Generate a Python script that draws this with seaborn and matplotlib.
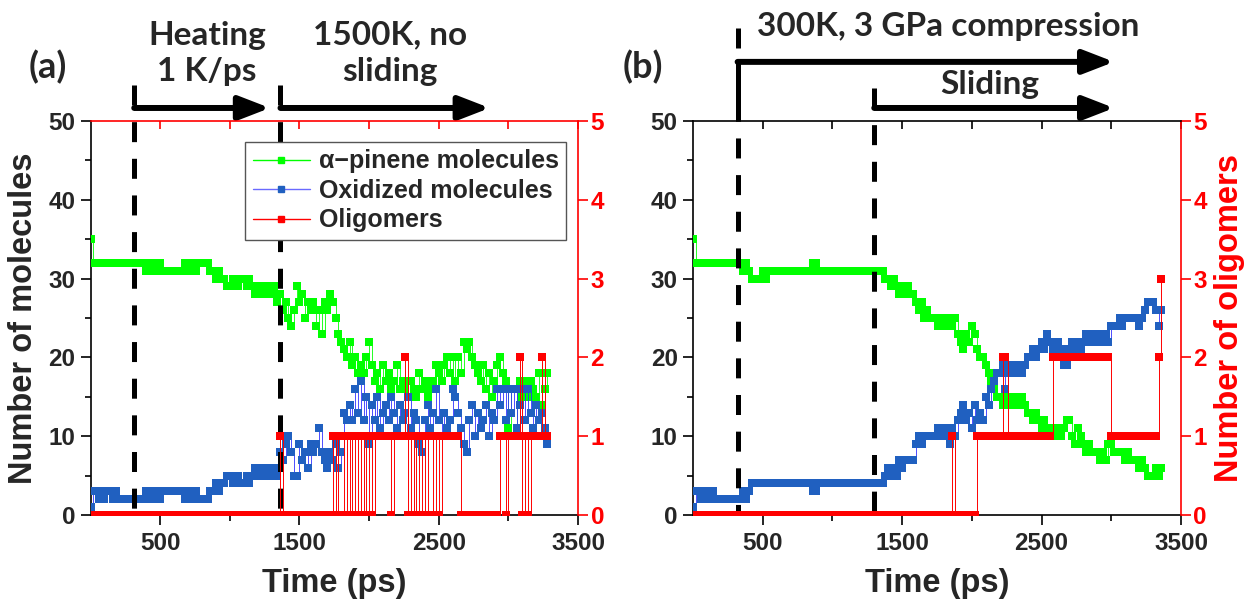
import numpy as np
import pandas as pd
import matplotlib
matplotlib.use("Agg")
import matplotlib.pyplot as plt
from matplotlib.lines import Line2D
import seaborn as sns

# ---------------- data (sampled every 20 ps) ----------------
STEP_PS = 20

green_a = [35, 32, 32, 32, 32,  32, 32, 32, 32, 32,  32, 32, 32, 32, 32,  32, 32, 32, 32, 32,
           31, 32, 31, 31, 32,  32, 31, 31, 31, 31,  31, 31, 31, 31, 32,  31, 32, 32, 31, 32,
           32, 32, 32, 31, 31,  30, 31, 30, 30, 29,  29, 30, 30, 29, 30,  30, 29, 30, 29, 28,
           29, 28, 29, 28, 29,  28, 29, 27, 28, 26,  27, 25, 24, 26, 29,  27, 28, 25, 27, 26,
           27, 24, 26, 23, 27,  26, 28, 27, 25, 23,  22, 21, 20, 22, 19,  20, 18, 19, 18, 20,
           22, 19, 17, 18, 16,  19, 17, 18, 16, 17,  19, 16, 17, 16, 15,  17, 16, 15, 18, 16,
           17, 15, 16, 17, 19,  18, 17, 19, 20, 18,  20, 17, 20, 18, 22,  21, 22, 20, 19, 18,
           17, 19, 16, 18, 15,  17, 19, 20, 18, 17,  11, 16, 16, 11, 17,  15, 17, 15, 17, 16,
           15, 18, 14, 16, 18]

blue_a = [1, 3, 3, 2, 3,  2, 3, 3, 2, 3,  2, 2, 2, 2, 2,  2, 2, 2, 2, 2,
          3, 2, 3, 3, 2,  2, 3, 3, 3, 3,  3, 3, 3, 3, 2,  3, 2, 2, 3, 2,
          2, 2, 2, 3, 3,  4, 3, 4, 4, 5,  5, 4, 4, 5, 4,  4, 5, 4, 5, 6,
          5, 6, 5, 6, 5,  6, 6, 5, 8, 7,  9, 10, 8, 5, 5,  9, 7, 8, 6, 9,
          8, 9, 11, 8, 7,  6, 8, 7, 9, 6,  8, 13, 12, 14, 12,  16, 13, 17, 12, 15,
          9, 14, 12, 15, 11,  13, 14, 12, 15, 13,  11, 14, 12, 13, 15,  11, 13, 12, 9, 8,
          12, 14, 11, 13, 16,  12, 10, 13, 11, 12,  16, 15, 13, 11, 9,  8, 12, 14, 10, 13,
          11, 12, 14, 10, 13,  12, 16, 14, 16, 12,  16, 13, 16, 11, 14,  16, 12, 16, 13, 11,
          14, 12, 13, 11, 9]

olig_a = [0, 0, 0, 0, 0,  0, 0, 0, 0, 0,  0, 0, 0, 0, 0,  0, 0, 0, 0, 0,
          0, 0, 0, 0, 0,  0, 0, 0, 0, 0,  0, 0, 0, 0, 0,  0, 0, 0, 0, 0,
          0, 0, 0, 0, 0,  0, 0, 0, 0, 0,  0, 0, 0, 0, 0,  0, 0, 0, 0, 0,
          0, 0, 0, 0, 0,  0, 0, 0, 1, 0,  0, 0, 0, 0, 0,  0, 0, 0, 0, 0,
          0, 0, 0, 0, 0,  0, 0, 1, 0, 1,  1, 0, 1, 0, 1,  0, 1, 0, 1, 0,
          1, 0, 1, 1, 1,  1, 1, 1, 0, 1,  1, 1, 1, 2, 0,  1, 0, 1, 0, 1,
          0, 1, 1, 0, 1,  0, 1, 1, 1, 1,  1, 1, 1, 0, 0,  0, 0, 0, 0, 0,
          0, 0, 0, 0, 0,  0, 0, 1, 1, 0,  1, 1, 1, 1, 2,  0, 1, 0, 1, 1,
          1, 1, 2, 1, 1]

green_b = [35, 32, 32, 32, 32,  32, 32, 32, 32, 32,  32, 32, 32, 32, 32,  32, 32, 32, 31, 32,
           31, 30, 30, 30, 30,  31, 30, 31, 31, 31,  31, 31, 31, 31, 31,  31, 31, 31, 31, 31,
           31, 31, 31, 32, 32,  31, 31, 31, 31, 31,  31, 31, 31, 31, 31,  31, 31, 31, 31, 31,
           31, 31, 31, 31, 31,  31, 31, 31, 31, 30,  30, 29, 30, 29, 28,  29, 28, 29, 28, 28,
           27, 26, 27, 25, 26,  25, 25, 25, 24, 25,  24, 25, 24, 24, 25,  23, 22, 21, 23, 22,
           24, 23, 21, 20, 20,  19, 18, 17, 16, 15,  15, 14, 15, 14, 15,  14, 15, 14, 15, 14,
           13, 13, 12, 13, 12,  11, 12, 11, 11, 11,  10, 11, 10, 11, 12,  12, 10, 9, 11, 10,
           9, 8, 9, 8, 8,  8, 7, 8, 7, 9,  9, 8, 8, 8, 8,  7, 8, 7, 7, 7,
           6, 7, 6, 5, 5,  5, 6, 5, 6]

blue_b = [1, 3, 3, 2, 3,  2, 3, 3, 2, 2,  2, 2, 2, 2, 2,  2, 2, 2, 3, 2,
          3, 4, 4, 4, 4,  4, 4, 4, 4, 4,  4, 4, 4, 4, 4,  4, 4, 4, 4, 4,
          4, 4, 4, 3, 3,  4, 4, 4, 4, 4,  4, 4, 4, 4, 4,  4, 4, 4, 4, 4,
          4, 4, 4, 4, 4,  4, 4, 4, 4, 5,  6, 5, 6, 5, 7,  6, 7, 7, 7, 7,
          9, 10, 9, 10, 10,  10, 10, 10, 11, 10,  11, 10, 9, 11, 10,  12, 13, 14, 12, 13,
          11, 14, 12, 13, 12,  15, 14, 16, 17, 18,  18, 19, 16, 18, 19,  19, 18, 19, 18, 19,
          20, 20, 21, 20, 21,  22, 21, 23, 22, 21,  21, 22, 21, 19, 19,  21, 22, 21, 22, 21,
          22, 23, 22, 23, 22,  23, 22, 23, 23, 22,  24, 24, 24, 25, 24,  25, 25, 25, 25, 25,
          24, 25, 26, 27, 27,  27, 26, 24, 26]

olig_b = [0, 0, 0, 0, 0,  0, 0, 0, 0, 0,  0, 0, 0, 0, 0,  0, 0, 0, 0, 0,
          0, 0, 0, 0, 0,  0, 0, 0, 0, 0,  0, 0, 0, 0, 0,  0, 0, 0, 0, 0,
          0, 0, 0, 0, 0,  0, 0, 0, 0, 0,  0, 0, 0, 0, 0,  0, 0, 0, 0, 0,
          0, 0, 0, 0, 0,  0, 0, 0, 0, 0,  0, 0, 0, 0, 0,  0, 0, 0, 0, 0,
          0, 0, 0, 0, 0,  0, 0, 0, 0, 0,  0, 0, 0, 1, 0,  0, 0, 0, 0, 0,
          0, 0, 1, 1, 1,  1, 1, 1, 1, 1,  1, 2, 2, 1, 1,  1, 1, 1, 1, 1,
          1, 1, 1, 1, 1,  1, 1, 1, 1, 2,  2, 2, 2, 2, 2,  2, 2, 2, 2, 2,
          2, 2, 2, 2, 2,  2, 2, 2, 2, 2,  1, 1, 1, 1, 1,  1, 1, 1, 1, 1,
          1, 1, 1, 1, 1,  1, 1, 2, 3]

# phase boundaries (ps) and arrow ends
phase_lines_a = [314, 1364]
phase_lines_b = [320, 1300]
arrow_end_a = [1288, 2866]
arrow_end_b = [3020, 3020]

legend_labels = ["\u03b1\u2212pinene molecules", "Oxidized molecules", "Oligomers"]
x_major = [500, 1500, 2500, 3500]
x_minor = [1000, 2000, 3000]

# ---------------- style ----------------
sns.set_style("ticks")
plt.rcParams["font.family"] = ["Liberation Sans", "DejaVu Sans"]
plt.rcParams["font.weight"] = "bold"
plt.rcParams["axes.labelweight"] = "bold"

GREEN = "#00FF00"
BLUE_M = "#2060C0"
BLUE_L = "#3030FF"
RED = "#FF0000"
ANN_FONT = ["Lato", "Liberation Sans", "DejaVu Sans"]

fig = plt.figure(figsize=(12.5, 6.04), dpi=100)
ax_a = fig.add_axes([0.0724, 0.1474, 0.390, 0.6523])
ax_b = fig.add_axes([0.5544, 0.1474, 0.3904, 0.6523])

TICK_FS = 17.5
LAB_FS = 23.5
MS = 6.0


def series(vals):
    t = np.arange(len(vals)) * STEP_PS
    return pd.DataFrame({"t": t, "v": vals})


def draw_panel(ax, green, blue, olig, top_color):
    g = series(green)
    b = series(blue)
    o = series(olig)
    sns.lineplot(data=g, x="t", y="v", ax=ax, color=GREEN, marker="s",
                 markersize=MS, markeredgewidth=0, markeredgecolor=GREEN,
                 linewidth=0.6, estimator=None, legend=False, zorder=3,
                 drawstyle="steps-post")
    sns.lineplot(data=b, x="t", y="v", ax=ax, color=BLUE_L, marker="s",
                 markersize=MS, markeredgewidth=0, markerfacecolor=BLUE_M,
                 markeredgecolor=BLUE_M, linewidth=0.6, estimator=None,
                 legend=False, zorder=4, drawstyle="steps-post")
    ax2 = ax.twinx()
    sns.lineplot(data=o, x="t", y="v", ax=ax2, color=RED, marker="s",
                 markersize=MS, markeredgewidth=0, markeredgecolor=RED,
                 linewidth=0.7, estimator=None, legend=False, zorder=5,
                 drawstyle="steps-post")

    ax.set_xlim(0, 3500)
    ax.set_ylim(0, 50)
    ax2.set_ylim(0, 5)
    ax.set_xticks(x_major)
    ax.set_xticks(x_minor, minor=True)
    ax.set_yticks(range(0, 51, 10))
    ax.set_yticks(range(5, 50, 10), minor=True)
    ax2.set_yticks(range(0, 6))
    ax.set_xlabel("Time (ps)", fontsize=LAB_FS, fontweight="bold")
    ax.xaxis.set_label_coords(0.5, -0.173)
    ax.xaxis.label.set_va("center")
    ax2.set_ylabel("")
    ax2.set_xlabel("")

    for sp in ["top", "right"]:
        ax.spines[sp].set_visible(False)
    for sp in ["left", "bottom"]:
        ax.spines[sp].set_color("black")
        ax.spines[sp].set_linewidth(1.2)
        ax2.spines[sp].set_visible(False)
    ax2.spines["right"].set_color(RED)
    ax2.spines["right"].set_linewidth(1.2)
    ax2.spines["top"].set_color(top_color)
    ax2.spines["top"].set_linewidth(1.2)

    ax.tick_params(axis="both", which="major", length=7, width=1.2,
                   labelsize=TICK_FS, direction="out", color="black")
    ax.tick_params(axis="both", which="minor", length=4, width=1.2,
                   direction="out", color="black")
    ax.tick_params(axis="x", which="major", pad=5)
    ax.tick_params(axis="y", which="major", pad=4)
    ax2.tick_params(axis="y", which="major", length=7, width=1.2,
                    labelsize=TICK_FS, direction="out", color=RED,
                    labelcolor=RED, pad=2)
    ax2.xaxis.set_visible(True)
    ax2.tick_params(axis="x", which="both", bottom=False, labelbottom=False,
                    top=True, labeltop=False, direction="in", length=6,
                    width=1.2, color=top_color)
    ax.set_ylabel("")
    return ax2


ax2_a = draw_panel(ax_a, green_a, blue_a, olig_a, RED)
ax2_b = draw_panel(ax_b, green_b, blue_b, olig_b, "black")

ax_a.set_ylabel("Number of molecules", fontsize=LAB_FS, fontweight="bold")
ax_a.yaxis.set_label_coords(-0.138, 0.5)
ax_a.yaxis.label.set_va("center")
ax2_b.set_ylabel("Number of oligomers", fontsize=LAB_FS, fontweight="bold",
                 color=RED)
ax2_b.yaxis.set_label_coords(1.10, 0.5)
ax2_b.yaxis.label.set_va("center")

# legend
handles = [
    Line2D([0], [0], color=GREEN, lw=1, marker="s", markersize=5,
           mfc=GREEN, mec=GREEN),
    Line2D([0], [0], color="#6A6AFF", lw=1, marker="s", markersize=5,
           mfc=BLUE_M, mec=BLUE_M),
    Line2D([0], [0], color=RED, lw=1, marker="s", markersize=5,
           mfc=RED, mec=RED),
]
leg = ax2_a.legend(handles, legend_labels, loc="upper left",
                   bbox_to_anchor=(0.317, 0.947), borderaxespad=0,
                   frameon=True, fancybox=False,
                   framealpha=1, edgecolor="#555555", handlelength=2.3,
                   handletextpad=0.35, labelspacing=0.22, borderpad=0.3,
                   prop={"weight": "bold", "size": 18})
leg.get_frame().set_linewidth(1.0)

DASH = (0, (4.0, 3.33))


def phase_marks(ax, xs, tops):
    tr = ax.get_xaxis_transform()
    for x, top in zip(xs, tops):
        ax.plot([x, x], [top, 0], transform=tr, color="black", lw=3.6,
                linestyle=DASH, clip_on=False, zorder=10,
                solid_capstyle="butt", dash_capstyle="butt")


def arrow(ax, x0, x1, y):
    tr = ax.get_xaxis_transform()
    ax.annotate("", xy=(x1, y), xytext=(x0, y), xycoords=tr, textcoords=tr,
                annotation_clip=False,
                arrowprops=dict(arrowstyle="-|>,head_length=0.62,head_width=0.24",
                                mutation_scale=30, lw=4.3, color="black",
                                shrinkA=0, shrinkB=0))


def note(ax, x, y, s):
    ax.text(x, y, s, transform=ax.get_xaxis_transform(), ha="center",
            va="center", fontsize=24, fontweight="bold", family=ANN_FONT,
            clip_on=False, linespacing=1.3)


# panel (a) annotations
phase_marks(ax_a, phase_lines_a, [1.0914, 1.0914])
arrow(ax_a, phase_lines_a[0], arrow_end_a[0], 1.033)
arrow(ax_a, phase_lines_a[1], arrow_end_a[1], 1.033)
note(ax_a, 836, 1.172, "Heating\n1 K/ps")
note(ax_a, 2148, 1.172, "1500K, no\nsliding")

# panel (b) annotations
phase_marks(ax_b, phase_lines_b, [1.236, 1.0838])
trb = ax_b.get_xaxis_transform()
ax_b.plot([phase_lines_b[0]] * 2, [1.150, 1.025], transform=trb, color="black",
          lw=3.6, clip_on=False, zorder=10, solid_capstyle="butt")
arrow(ax_b, phase_lines_b[0], arrow_end_b[0], 1.150)
arrow(ax_b, phase_lines_b[1], arrow_end_b[1], 1.033)
note(ax_b, 1829, 1.2386, "300K, 3 GPa compression")
note(ax_b, 2130, 1.0914, "Sliding")

fig.text(48 / 1250, 1 - 67 / 604, "(a)", ha="center", va="center",
         fontsize=26, fontweight="bold", family=ANN_FONT)
fig.text(643 / 1250, 1 - 67 / 604, "(b)", ha="center", va="center",
         fontsize=26, fontweight="bold", family=ANN_FONT)

fig.savefig("out.png", dpi=100)
